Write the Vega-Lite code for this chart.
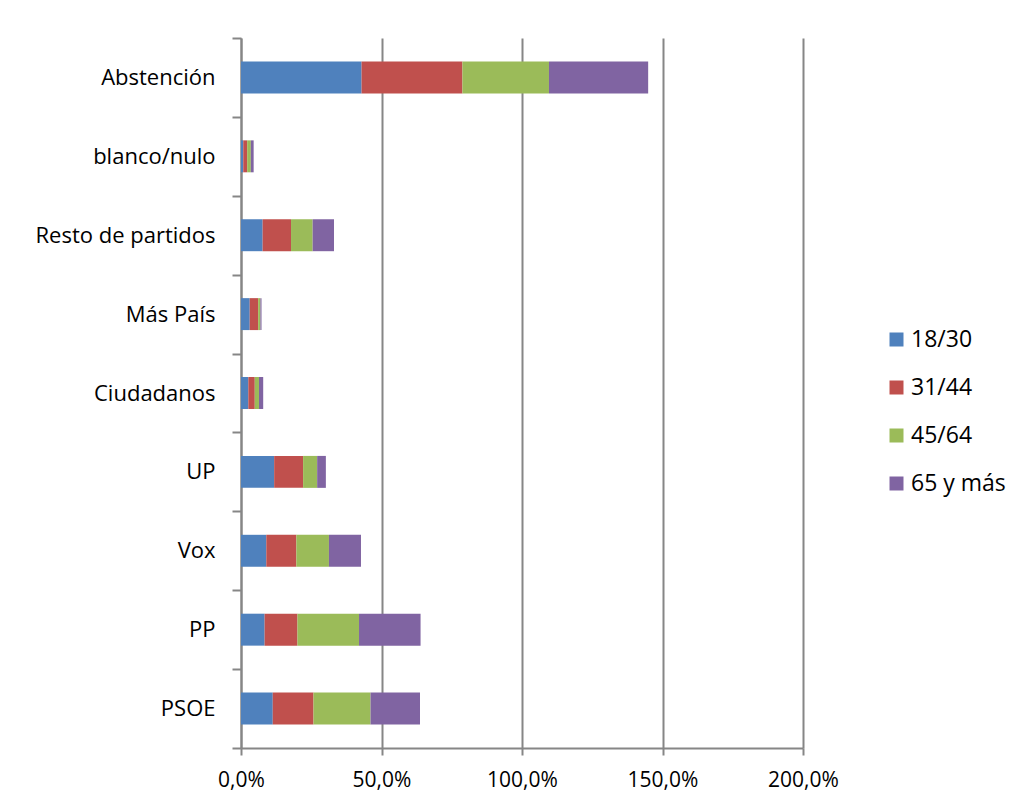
{
  "$schema": "https://vega.github.io/schema/vega-lite/v6.json",
  "width": 562,
  "height": 710,
  "autosize": {"type": "none"},
  "padding": {"left": 241, "top": 38, "right": 213, "bottom": 61},
  "background": "white",
  "config": {
    "view": {"stroke": null},
    "font": "Open Sans",
    "axis": {"labelFont": "Open Sans", "labelColor": "#000000"}
  },
  "data": {
    "values": [
      {"partido": "Abstención", "edad": "18/30", "ord": 1, "pct": 42.9},
      {"partido": "Abstención", "edad": "31/44", "ord": 2, "pct": 35.9},
      {"partido": "Abstención", "edad": "45/64", "ord": 3, "pct": 30.8},
      {"partido": "Abstención", "edad": "65 y más", "ord": 4, "pct": 35.3},
      {"partido": "blanco/nulo", "edad": "18/30", "ord": 1, "pct": 0.8},
      {"partido": "blanco/nulo", "edad": "31/44", "ord": 2, "pct": 1.4},
      {"partido": "blanco/nulo", "edad": "45/64", "ord": 3, "pct": 1.3},
      {"partido": "blanco/nulo", "edad": "65 y más", "ord": 4, "pct": 1.0},
      {"partido": "Resto de partidos", "edad": "18/30", "ord": 1, "pct": 7.7},
      {"partido": "Resto de partidos", "edad": "31/44", "ord": 2, "pct": 10.1},
      {"partido": "Resto de partidos", "edad": "45/64", "ord": 3, "pct": 7.7},
      {"partido": "Resto de partidos", "edad": "65 y más", "ord": 4, "pct": 7.6},
      {"partido": "Más País", "edad": "18/30", "ord": 1, "pct": 3.1},
      {"partido": "Más País", "edad": "31/44", "ord": 2, "pct": 3.0},
      {"partido": "Más País", "edad": "45/64", "ord": 3, "pct": 0.8},
      {"partido": "Más País", "edad": "65 y más", "ord": 4, "pct": 0.4},
      {"partido": "Ciudadanos", "edad": "18/30", "ord": 1, "pct": 2.6},
      {"partido": "Ciudadanos", "edad": "31/44", "ord": 2, "pct": 2.3},
      {"partido": "Ciudadanos", "edad": "45/64", "ord": 3, "pct": 1.5},
      {"partido": "Ciudadanos", "edad": "65 y más", "ord": 4, "pct": 1.5},
      {"partido": "UP", "edad": "18/30", "ord": 1, "pct": 11.8},
      {"partido": "UP", "edad": "31/44", "ord": 2, "pct": 10.3},
      {"partido": "UP", "edad": "45/64", "ord": 3, "pct": 5.0},
      {"partido": "UP", "edad": "65 y más", "ord": 4, "pct": 3.1},
      {"partido": "Vox", "edad": "18/30", "ord": 1, "pct": 9.0},
      {"partido": "Vox", "edad": "31/44", "ord": 2, "pct": 10.7},
      {"partido": "Vox", "edad": "45/64", "ord": 3, "pct": 11.6},
      {"partido": "Vox", "edad": "65 y más", "ord": 4, "pct": 11.4},
      {"partido": "PP", "edad": "18/30", "ord": 1, "pct": 8.4},
      {"partido": "PP", "edad": "31/44", "ord": 2, "pct": 11.7},
      {"partido": "PP", "edad": "45/64", "ord": 3, "pct": 21.9},
      {"partido": "PP", "edad": "65 y más", "ord": 4, "pct": 21.9},
      {"partido": "PSOE", "edad": "18/30", "ord": 1, "pct": 11.3},
      {"partido": "PSOE", "edad": "31/44", "ord": 2, "pct": 14.5},
      {"partido": "PSOE", "edad": "45/64", "ord": 3, "pct": 20.3},
      {"partido": "PSOE", "edad": "65 y más", "ord": 4, "pct": 17.6}
    ]
  },
  "mark": {"type": "bar", "height": {"band": 0.405}},
  "encoding": {
    "y": {
      "field": "partido", "type": "nominal",
      "sort": ["Abstención", "blanco/nulo", "Resto de partidos", "Más País", "Ciudadanos", "UP", "Vox", "PP", "PSOE"],
      "scale": {"paddingInner": 0, "paddingOuter": 0},
      "axis": {
        "title": null, "ticks": true, "tickBand": "extent", "tickSize": 9, "tickWidth": 2, "tickColor": "#868686",
        "labelPadding": 17, "labelFontSize": 22,
        "domain": true, "domainColor": "#868686", "domainWidth": 2, "grid": false
      }
    },
    "x": {
      "field": "pct", "type": "quantitative", "stack": "zero",
      "scale": {"domain": [0, 200], "nice": false},
      "axis": {
        "title": null, "values": [0, 50, 100, 150, 200],
        "labelExpr": "replace(format(datum.value, '.1f'), '.', ',') + '%'",
        "labelFlush": false, "labelFontSize": 21,
        "grid": true, "gridColor": "#868686", "gridWidth": 2,
        "domain": true, "domainColor": "#868686", "domainWidth": 2,
        "ticks": true, "tickColor": "#868686", "tickWidth": 2, "tickSize": 7,
        "labelPadding": 14
      }
    },
    "color": {
      "field": "edad", "type": "nominal",
      "scale": {"domain": ["18/30", "31/44", "45/64", "65 y más"], "range": ["#4F81BD", "#C0504D", "#9BBB59", "#8064A2"]},
      "legend": {
        "title": null, "orient": "none", "legendX": 644, "legendY": 290,
        "symbolType": "square", "symbolSize": 196, "symbolStrokeWidth": 0,
        "labelFont": "Open Sans", "labelFontSize": 23, "labelColor": "#000000",
        "rowPadding": 24, "labelOffset": 3, "padding": 0
      }
    },
    "order": {"field": "ord", "type": "quantitative"}
  }
}
